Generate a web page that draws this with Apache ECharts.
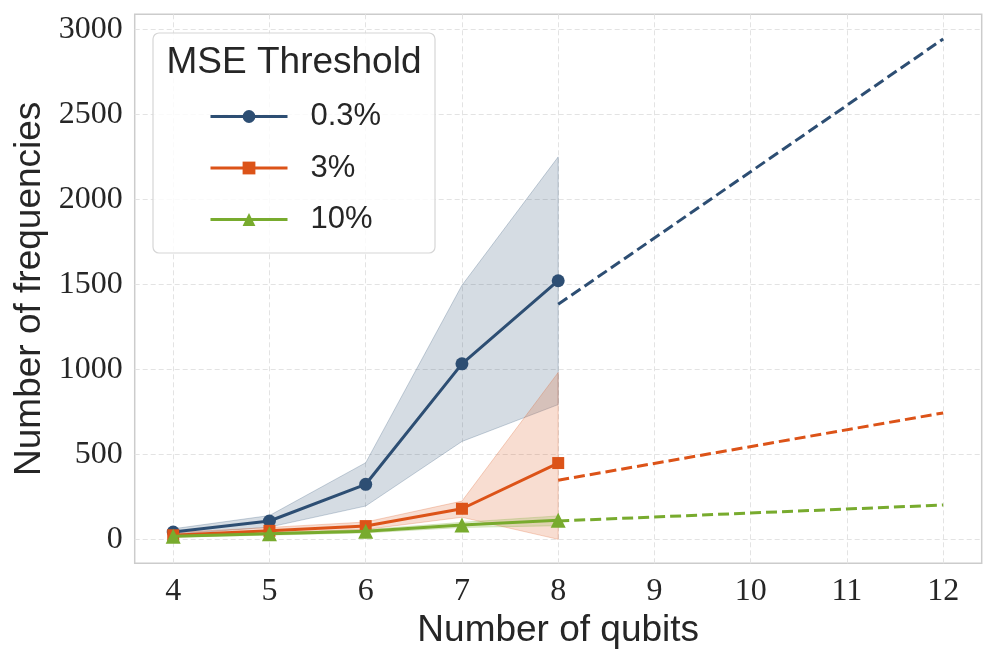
<!DOCTYPE html>
<html>
<head>
<meta charset="utf-8">
<script src="https://cdn.jsdelivr.net/npm/echarts@6/dist/echarts.min.js"></script>
<style>html,body{margin:0;padding:0;background:#fff}#c{width:997px;height:664px}</style>
</head>
<body>
<div id="c"></div>
<script>
// ---- data ----
const qubits = [4, 5, 6, 7, 8];
const names = ['0.3%', '3%', '10%'];
const mean03 = [43, 108, 324, 1033, 1522];
const lo03 = [28, 72, 196, 576, 793];
const hi03 = [62, 140, 451, 1495, 2251];
const mean3 = [24, 50, 78, 180, 449];
const lo3 = [12, 33, 58, 130, 0];
const hi3 = [40, 70, 102, 225, 982];
const mean10 = [18, 33, 47, 84, 112];
const lo10 = [12, 25, 38, 70, 80];
const hi10 = [25, 42, 57, 100, 138];
const extX = [8, 12];
const ext03 = [1383, 2945];
const ext3 = [348, 744];
const ext10 = [108, 202];
const xTicks = [4, 5, 6, 7, 8, 9, 10, 11, 12];
const yTicks = [0, 500, 1000, 1500, 2000, 2500, 3000];

const colors = ['#2d4e73', '#dc5318', '#78ab2e'];
const fills = ['rgba(45,78,115,0.2)', 'rgba(220,83,24,0.2)', 'rgba(120,171,46,0.2)'];
const edges = ['rgba(45,78,115,0.25)', 'rgba(220,83,24,0.25)', 'rgba(120,171,46,0.25)'];
const symbols = ['circle', 'rect', 'triangle'];
const symSizes = [13, 12, 15];
const means = [mean03, mean3, mean10];
const los = [lo03, lo3, lo10];
const his = [hi03, hi3, hi10];
const exts = [ext03, ext3, ext10];

function band(k) {
  return {
    type: 'custom', name: 'band' + k, silent: true, z: 1,
    data: qubits.map((q, i) => [q, los[k][i], his[k][i]]),
    encode: { x: 0, y: [1, 2] },
    renderItem: function (params, api) {
      if (params.dataIndex !== 0) return;
      const pts = [];
      for (let i = 0; i < qubits.length; i++) pts.push(api.coord([qubits[i], his[k][i]]));
      for (let i = qubits.length - 1; i >= 0; i--) pts.push(api.coord([qubits[i], los[k][i]]));
      return { type: 'polygon', shape: { points: pts }, style: { fill: fills[k], stroke: edges[k], lineWidth: 1 } };
    }
  };
}

const series = [];
for (let k = 0; k < 3; k++) series.push(band(k));
for (let k = 0; k < 3; k++) {
  series.push({
    type: 'line', name: names[k], z: 3 + k,
    data: qubits.map((q, i) => [q, means[k][i]]),
    symbol: symbols[k], symbolSize: symSizes[k], showSymbol: true,
    lineStyle: { color: colors[k], width: 3 },
    itemStyle: { color: colors[k] },
    animation: false
  });
}
for (let k = 0; k < 3; k++) {
  series.push({
    type: 'line', name: 'ext' + k, z: 3,
    data: extX.map((x, i) => [x, exts[k][i]]),
    symbol: 'none',
    lineStyle: { color: colors[k], width: 3, type: [11, 5] },
    animation: false
  });
}

const chart = echarts.init(document.getElementById('c'));
chart.setOption({
  animation: false,
  backgroundColor: '#ffffff',
  grid: { left: 134.7, right: 15.3, top: 14.3, bottom: 100.7, outerBoundsMode: 'none', containLabel: false, show: true, borderColor: '#cccccc', borderWidth: 1.5, backgroundColor: 'transparent' },
  xAxis: {
    type: 'value', min: 3.6, max: 12.4,
    name: 'Number of qubits', nameLocation: 'middle', nameGap: 41,
    nameTextStyle: { fontSize: 37, fontFamily: 'Liberation Sans', color: '#262626' },
    axisLine: { show: false }, axisTick: { show: false, customValues: xTicks },
    axisLabel: { customValues: xTicks, fontSize: 32, fontFamily: 'Liberation Serif', color: '#262626', margin: 12, formatter: v => String(v) },
    splitLine: { show: true, lineStyle: { color: '#e3e3e3', type: [5, 3], width: 1 } }
  },
  yAxis: {
    type: 'value', min: -141, max: 3090,
    name: 'Number of frequencies', nameLocation: 'middle', nameGap: 77,
    nameTextStyle: { fontSize: 37, fontFamily: 'Liberation Sans', color: '#262626' },
    axisLine: { show: false }, axisTick: { show: false, customValues: yTicks },
    axisLabel: { customValues: yTicks, fontSize: 32, fontFamily: 'Liberation Serif', color: '#262626', margin: 12, formatter: v => String(v) },
    splitLine: { show: true, lineStyle: { color: '#e3e3e3', type: [5, 3], width: 1 } }
  },
  legend: {
    data: names, orient: 'vertical', left: 204, top: 96, z: 20,
    itemWidth: 77, itemHeight: 16, itemGap: 20.5,
    lineStyle: { width: 3 },
    textStyle: { fontSize: 31, fontFamily: 'Liberation Sans', color: '#262626', lineHeight: 31, padding: [0, 0, 0, 18] }
  },
  graphic: [
    { type: 'rect', z: 15, shape: { x: 153, y: 33, width: 282, height: 220, r: 6 }, style: { fill: 'rgba(255,255,255,0.8)', stroke: '#d6d6d6', lineWidth: 1.2 } },
    { type: 'text', z: 16, x: 294, y: 63, style: { text: 'MSE Threshold', font: '37px "Liberation Sans"', fill: '#262626', textAlign: 'center', textVerticalAlign: 'middle' } }
  ],
  series: series
});
</script>
</body>
</html>
